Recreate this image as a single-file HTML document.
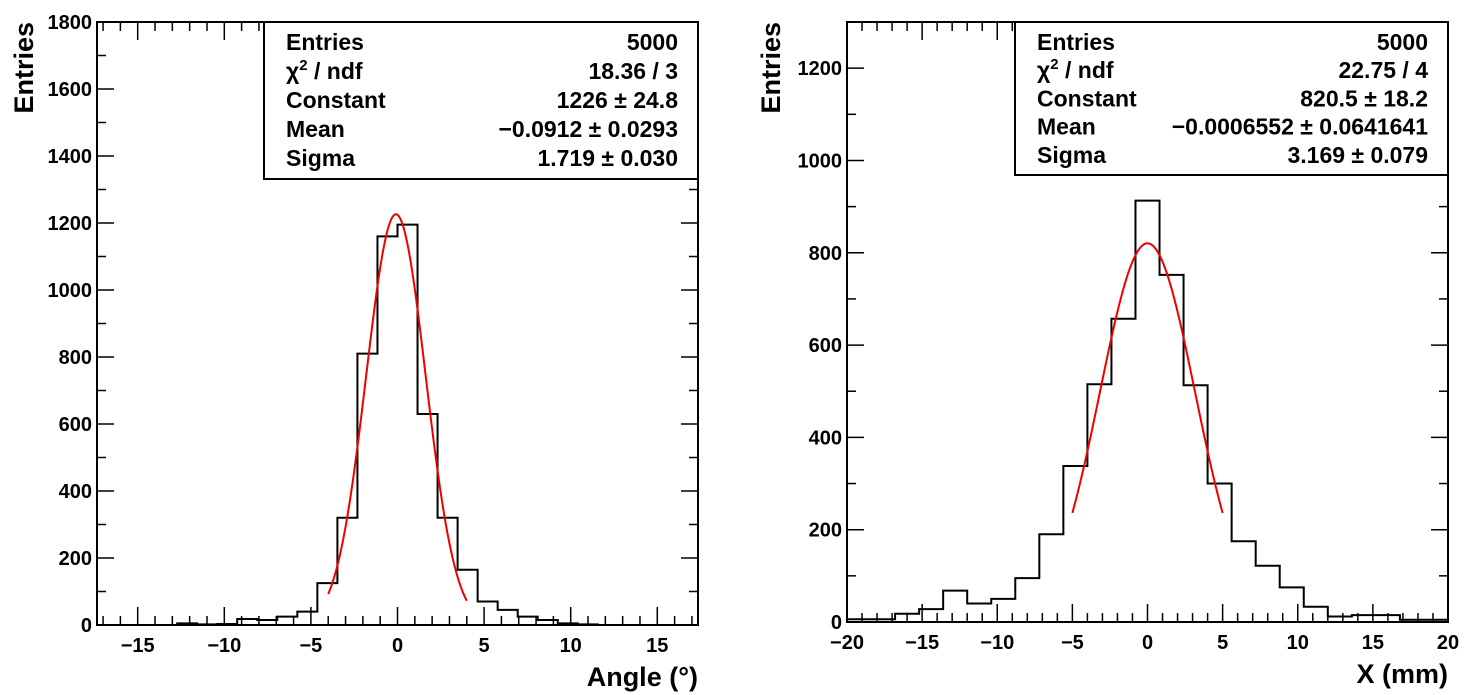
<!DOCTYPE html>
<html><head><meta charset="utf-8"><style>
body{margin:0;background:#fff;}
svg{display:block;font-family:"Liberation Sans",Arial,sans-serif;font-weight:bold;}
</style></head><body>
<svg id="c" width="1476" height="695" viewBox="0 0 1476 695"></svg>
<script>
// Left histogram data (angle)
const leftCounts = [0,0,0,0,5,2,3,18,15,25,40,125,320,810,1160,1195,630,320,165,70,45,25,15,5,2,0,0,0,0,0];
const leftXTicks = [-15,-10,-5,0,5,10,15];
const leftYTicks = [0,200,400,600,800,1000,1200,1400,1600,1800];
const leftFit = [1226,-0.0912,1.719];
const leftStats = [["Entries","5000"],["χ2 / ndf","18.36 / 3"],["Constant","1226 ± 24.8"],["Mean","−0.0912 ± 0.0293"],["Sigma","1.719 ± 0.030"]];
// Right histogram data (X mm)
const rightCounts = [6,6,18,28,68,40,50,95,190,338,515,657,913,752,513,300,175,122,75,33,12,15,15,5,5];
const rightXTicks = [-20,-15,-10,-5,0,5,10,15,20];
const rightYTicks = [0,200,400,600,800,1000,1200];
const rightFit = [820.5,-0.0006552,3.169];
const rightStats = [["Entries","5000"],["χ2 / ndf","22.75 / 4"],["Constant","820.5 ± 18.2"],["Mean","−0.0006552 ± 0.0641641"],["Sigma","3.169 ± 0.079"]];

const NS="http://www.w3.org/2000/svg";
const svg=document.getElementById('c');
function mk(tag,attrs,parent){const e=document.createElementNS(NS,tag);for(const k in attrs)e.setAttribute(k,attrs[k]);(parent||svg).appendChild(e);return e;}

function drawPanel(p){
  const g=mk('g',{});
  
  
  const sx=v=>p.x0+(v-p.xmin)/(p.xmax-p.xmin)*(p.x1-p.x0);
  const sy=v=>p.y1-(v-p.ymin)/(p.ymax-p.ymin)*(p.y1-p.y0);
  for(let v=Math.ceil(p.xmin);v<=p.xmax;v+=1){
    const major=v%5===0, L=major?18:9, X=sx(v);
    const t1=mk('line',{x1:X,y1:p.y1,x2:X,y2:p.y1-L,stroke:'#000','stroke-width':1.5},g);
    
    
    const t2=mk('line',{x1:X,y1:p.y0,x2:X,y2:p.y0+L,stroke:'#000','stroke-width':1.5},g);
    
    
  }
  for(let v=p.ymin;v<=p.ymax;v+=p.yminor){
    const major=v%p.ymajor===0, L=major?17:9, Y=sy(v);
    const t1=mk('line',{x1:p.x0,y1:Y,x2:p.x0+L,y2:Y,stroke:'#000','stroke-width':1.5},g);
    
    
    const t2=mk('line',{x1:p.x1,y1:Y,x2:p.x1-L,y2:Y,stroke:'#000','stroke-width':1.5},g);
    
    
  }
  p.xticks.forEach(v=>{
    const t=mk('text',{x:sx(v),y:p.y1+27,'text-anchor':'middle','font-size':20},g);
    t.textContent=v<0?'−'+Math.abs(v):String(v);
    
    
  });
  p.yticks.forEach(v=>{
    const t=mk('text',{x:p.x0-5,y:sy(v)+7,'text-anchor':'end','font-size':20},g);
    t.textContent=String(v);
    
    
  });
  const n=p.counts.length, w=(p.xmax-p.xmin)/n;
  let d='M'+sx(p.xmin)+','+sy(0);
  p.counts.forEach((c,i)=>{d+=' L'+sx(p.xmin+i*w)+','+sy(c)+' L'+sx(p.xmin+(i+1)*w)+','+sy(c);});
  d+=' L'+sx(p.xmax)+','+sy(0);
  const h=mk('path',{d:d,fill:'none',stroke:'#000','stroke-width':2},g);
  
  
  let fd='';
  for(let k=0;k<=200;k++){const xv=p.fitLo+(p.fitHi-p.fitLo)*k/200;const yv=p.fit[0]*Math.exp(-0.5*Math.pow((xv-p.fit[1])/p.fit[2],2));fd+=(k?' L':'M')+sx(xv).toFixed(2)+','+sy(yv).toFixed(2);}
  const f=mk('path',{d:fd,fill:'none',stroke:'#e00','stroke-width':2},g);
  
  
  const fr=mk('rect',{x:p.x0,y:p.y0,width:p.x1-p.x0,height:p.y1-p.y0,fill:'none',stroke:'#000','stroke-width':2},g);
  
  
  const sb=mk('g',{},g);
  
  
  mk('rect',{x:p.bx,y:p.y0,width:p.x1-p.bx,height:p.by-p.y0,fill:'#fff',stroke:'#000','stroke-width':2},sb);
  p.stats.forEach((r,i)=>{
    const Y=p.y0+28+i*(p.by-p.y0-12)/5;
    const a=mk('text',{x:p.bx+22,y:Y,'font-size':23},sb);
    if(r[0].startsWith('χ2')){a.innerHTML='χ<tspan dy="-9" font-size="15">2</tspan><tspan dy="9"> / ndf</tspan>';}
    else a.textContent=r[0];
    
    
    const b=mk('text',{x:p.x1-20,y:Y,'font-size':23,'text-anchor':'end'},sb);
    b.textContent=r[1];
    
    
  });
  const xt=mk('text',{x:p.x1,y:p.y1+61,'text-anchor':'end','font-size':27},g);
  xt.textContent=p.xtitle;
  
  
  const yt=mk('text',{x:0,y:0,'text-anchor':'end','font-size':27,transform:'translate('+p.ytx+','+p.y0+') rotate(-90)'},g);
  yt.textContent='Entries';
  
  
}
drawPanel({name:'angle-panel',x0:97,x1:698,y0:22,y1:625,xmin:-17.35,xmax:17.35,ymin:0,ymax:1800,ymajor:200,yminor:100,
  counts:leftCounts,xticks:leftXTicks,yticks:leftYTicks,fit:leftFit,fitLo:-4,fitHi:4,stats:leftStats,bx:264,by:179,xtitle:'Angle (°)',ytx:33});
drawPanel({name:'position-panel',x0:847,x1:1448,y0:22,y1:622,xmin:-20,xmax:20,ymin:0,ymax:1300,ymajor:200,yminor:100,
  counts:rightCounts,xticks:rightXTicks,yticks:rightYTicks,fit:rightFit,fitLo:-5,fitHi:5,stats:rightStats,bx:1015,by:175,xtitle:'X (mm)',ytx:780});
</script>
</body></html>
